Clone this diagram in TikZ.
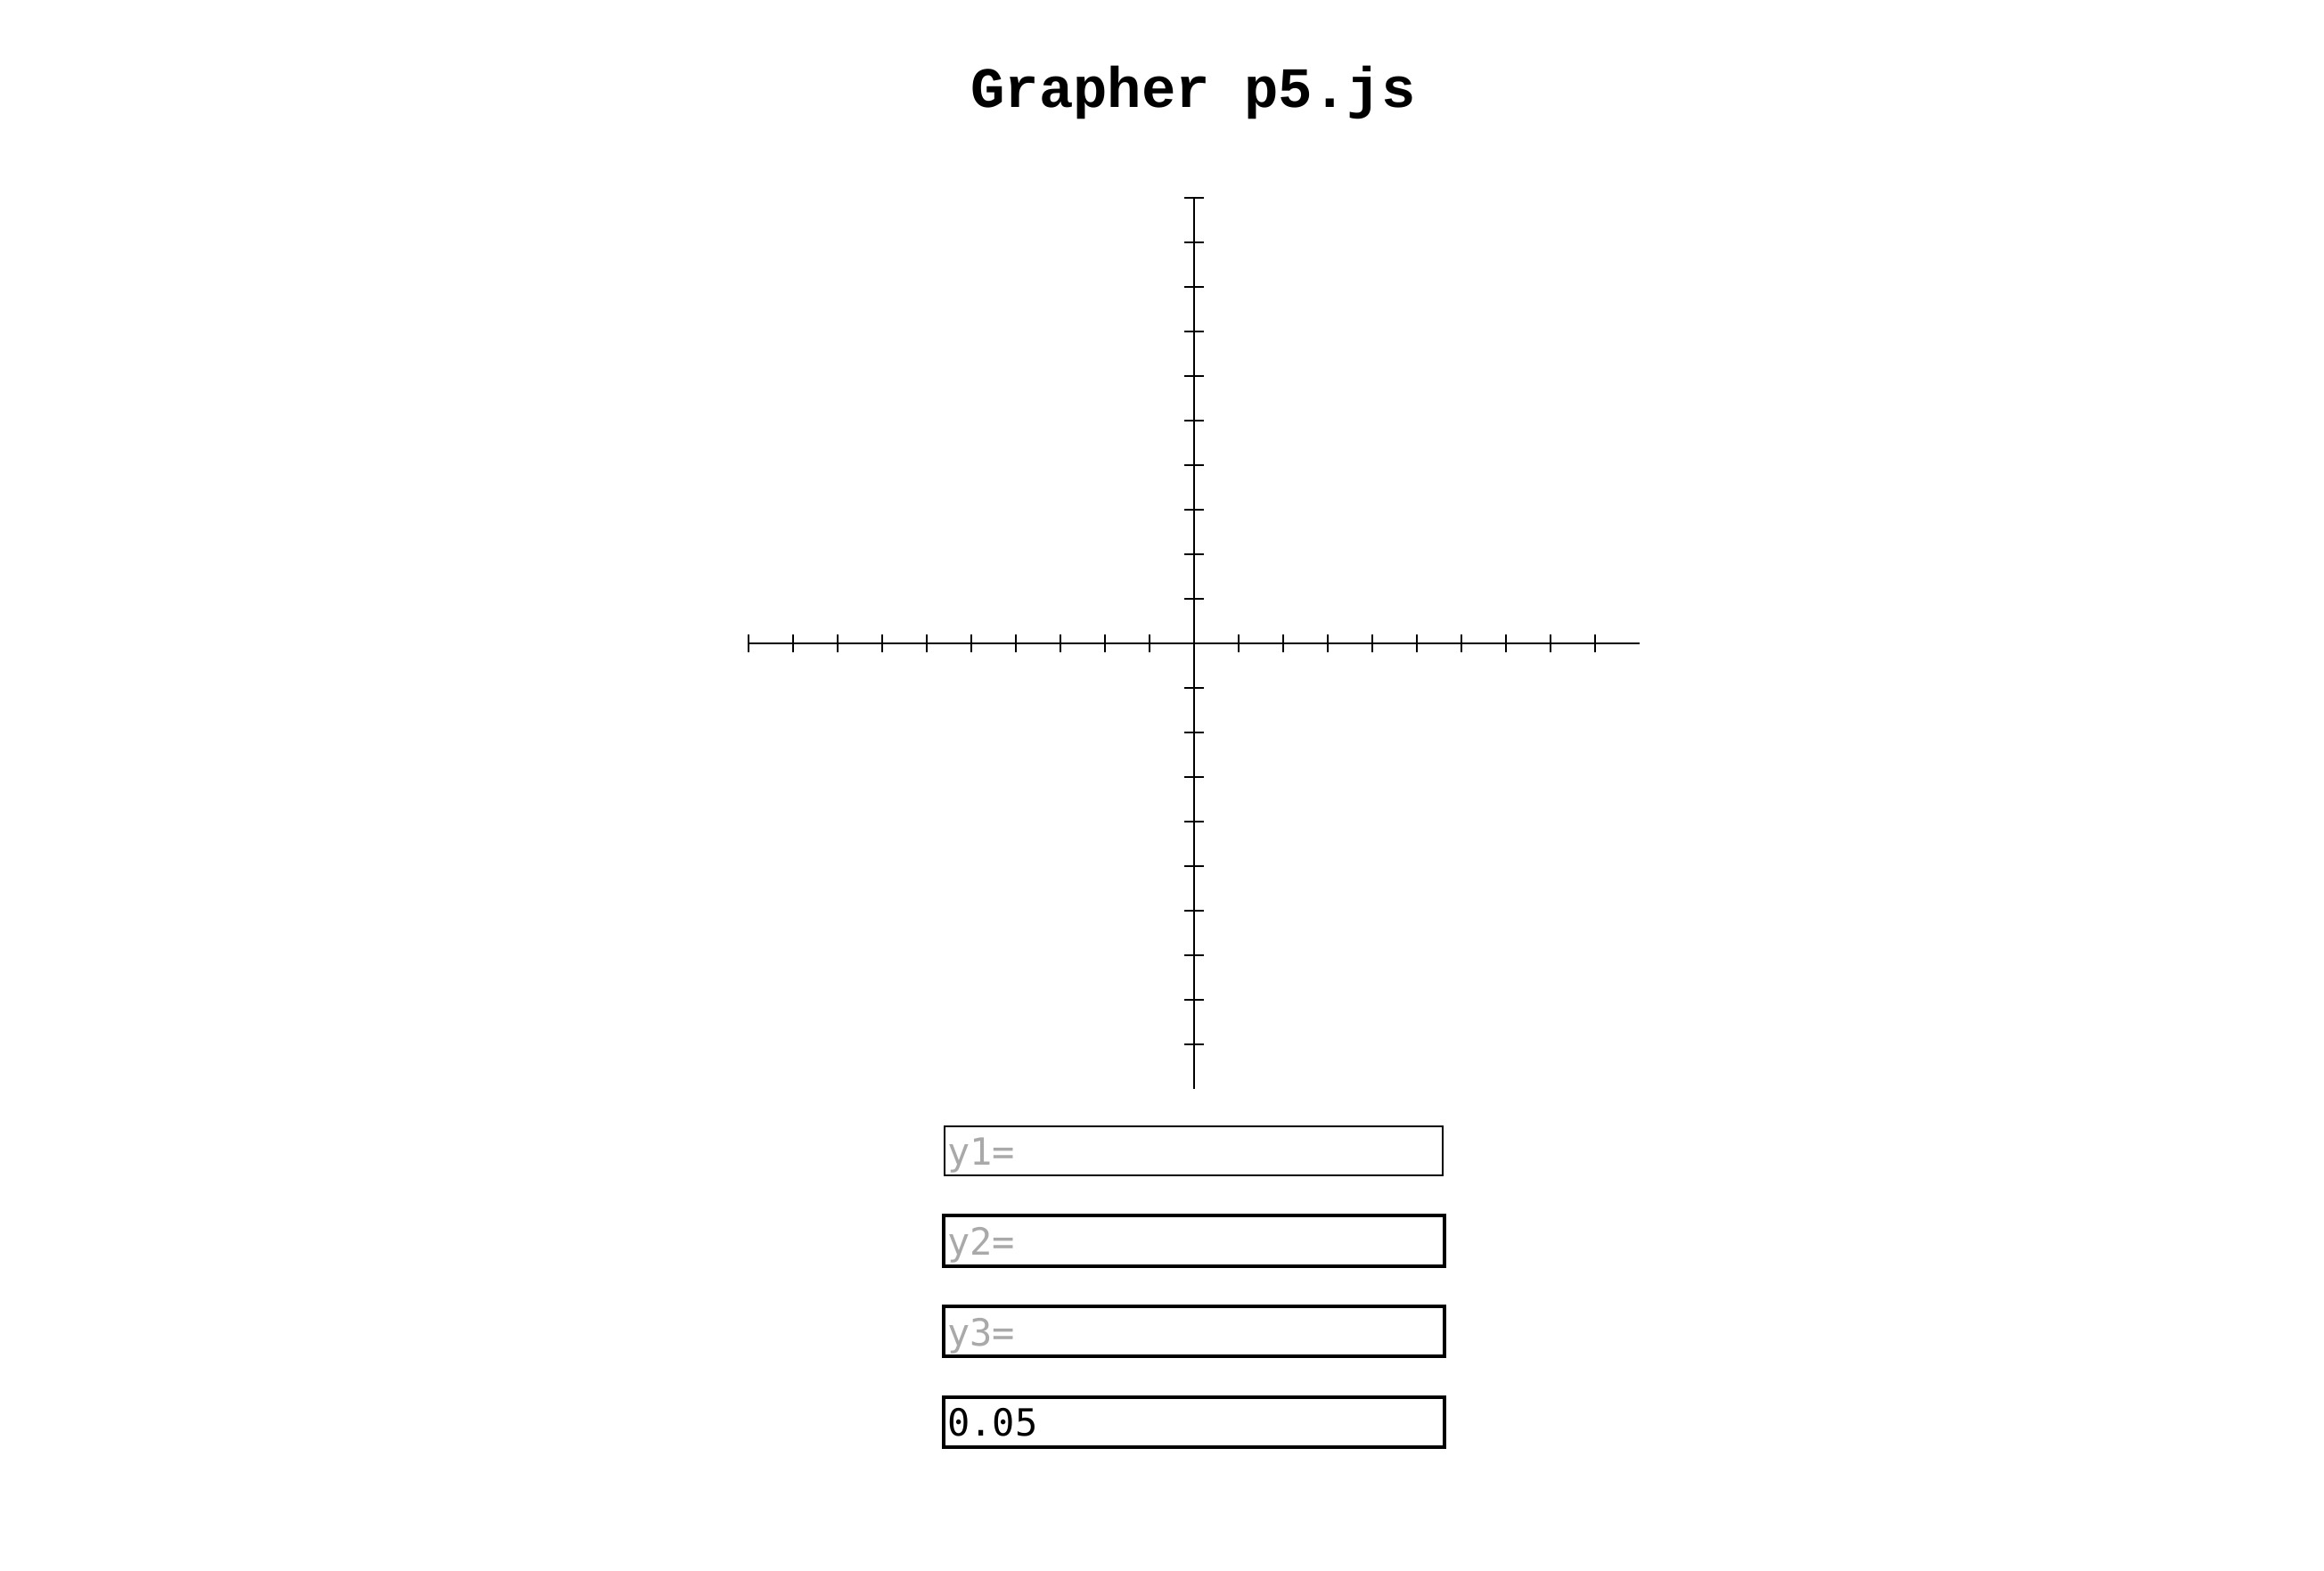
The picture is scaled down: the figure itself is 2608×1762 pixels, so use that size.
\documentclass[tikz,border=0pt]{standalone}
\usepackage{fontspec}
\newfontfamily\titlefont{Liberation Mono}
\newfontfamily\fieldfont{DejaVu Sans Mono}
\definecolor{placeholder}{HTML}{A9A9A9}
\tikzset{
  axisline/.style={line width=1pt, black},
  tickline/.style={line width=1pt, black},
  thinbox/.style={draw=black, line width=1pt, rectangle, inner sep=0pt, outer sep=0pt},
  thickbox/.style={draw=black, line width=2pt, rectangle, inner sep=0pt, outer sep=0pt},
  fieldtext/.style={anchor=base west, inner sep=0pt, font=\fieldfont\fontsize{21pt}{25pt}\selectfont},
  titletext/.style={anchor=base, inner sep=0pt, font=\titlefont\bfseries\fontsize{32pt}{38pt}\selectfont}
}
\begin{document}
\begin{tikzpicture}[x=0.5pt,y=-0.5pt]
\useasboundingbox[fill=white] (0,0) rectangle (2608,1762);
% title
\node[titletext] (title) at (1339,120) {Grapher p5.js};
% axes
\coordinate (xl) at (840,722);
\coordinate (xr) at (1840,722);
\coordinate (yt) at (1340,222);
\coordinate (yb) at (1340,1222);
\draw[axisline] (xl) -- (xr);
\draw[axisline] (yt) -- (yb);
\foreach \i in {0,...,19}{
  \draw[tickline] ({840+50*\i},712) -- ({840+50*\i},732);
  \draw[tickline] (1329,{222+50*\i}) -- (1351,{222+50*\i});
}
% input fields
\node[thinbox, minimum width=279.5pt, minimum height=27.5pt] (f1) at (1339.8,1291.8) {};
\node[thickbox, minimum width=280.7pt, minimum height=28.5pt] (f2) at (1340,1392.2) {};
\node[thickbox, minimum width=280.7pt, minimum height=28pt] (f3) at (1340,1494) {};
\node[thickbox, minimum width=280.7pt, minimum height=28.2pt] (f4) at (1340,1595.9) {};
\node[fieldtext, text=placeholder] (t1) at (1063,1307.3) {y1=};
\node[fieldtext, text=placeholder] (t2) at (1063,1408) {y2=};
\node[fieldtext, text=placeholder] (t3) at (1063,1510) {y3=};
\node[fieldtext, text=black] (t4) at (1063,1611) {0.05};
\end{tikzpicture}
\end{document}
